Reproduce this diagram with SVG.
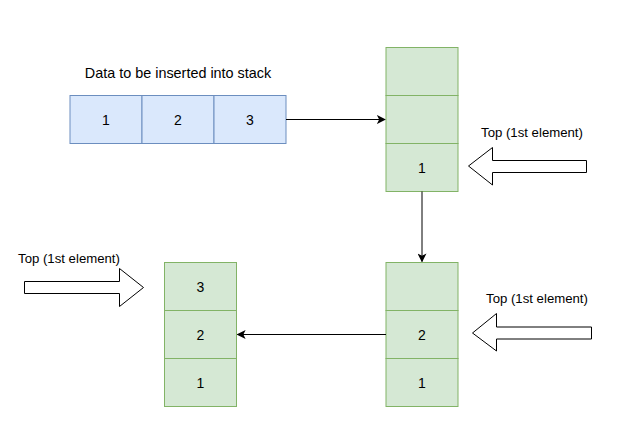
<svg xmlns="http://www.w3.org/2000/svg" width="617" height="432" viewBox="0 0 617 432">
<defs>
<marker id="ah" viewBox="0 0 10 10" refX="9" refY="5" markerWidth="9" markerHeight="9" markerUnits="userSpaceOnUse" orient="auto">
<path d="M0,0 L10,5 L0,10 L2.5,5 Z" fill="#000"/>
</marker>
<style>
text{font-family:"Liberation Sans",Arial,sans-serif;font-size:14px;fill:#000;text-anchor:middle;dominant-baseline:central}
.t{font-size:13.2px}
.d{font-size:14.4px}
.b{fill:#dae8fc;stroke:#6c8ebf;stroke-width:1}
.g{fill:#d5e8d4;stroke:#82b366;stroke-width:1}
.ba{fill:#fff;stroke:#000;stroke-width:1}
.c{fill:none;stroke:#000;stroke-width:1;marker-end:url(#ah)}
</style>
</defs>
<rect width="617" height="432" fill="#fff"/>
<g id="label-data"><text class="d" x="178" y="73">Data to be inserted into stack</text></g>
<g id="data-row">
<rect class="b" x="70" y="95.5" width="72" height="48"/><text x="106" y="119.5">1</text>
<rect class="b" x="142" y="95.5" width="72" height="48"/><text x="178" y="119.5">2</text>
<rect class="b" x="214" y="95.5" width="72" height="48"/><text x="250" y="119.5">3</text>
</g>
<g id="stack-1">
<rect class="g" x="386" y="47.5" width="72" height="48"/>
<rect class="g" x="386" y="95.5" width="72" height="48"/>
<rect class="g" x="386" y="143.5" width="72" height="48"/><text x="422" y="167.5">1</text>
</g>
<g id="stack-2">
<rect class="g" x="386" y="262.5" width="72" height="48"/>
<rect class="g" x="386" y="310.5" width="72" height="48"/><text x="422" y="334.5">2</text>
<rect class="g" x="386" y="358.5" width="72" height="48"/><text x="422" y="382.5">1</text>
</g>
<g id="stack-3">
<rect class="g" x="164.5" y="262.5" width="72" height="48"/><text x="200.5" y="286.5">3</text>
<rect class="g" x="164.5" y="310.5" width="72" height="48"/><text x="200.5" y="334.5">2</text>
<rect class="g" x="164.5" y="358.5" width="72" height="48"/><text x="200.5" y="382.5">1</text>
</g>
<g id="top-1">
<text class="t" x="532" y="132">Top (1st element)</text>
<path class="ba" d="M468.5,166 L492.5,147.5 L492.5,160.5 L586.5,160.5 L586.5,172.5 L492.5,172.5 L492.5,185 Z"/>
</g>
<g id="top-2">
<text class="t" x="537" y="298">Top (1st element)</text>
<path class="ba" d="M472.5,333 L496.5,313.5 L496.5,327 L591.5,327 L591.5,339 L496.5,339 L496.5,351 Z"/>
</g>
<g id="top-3">
<text class="t" x="69" y="258">Top (1st element)</text>
<path class="ba" d="M143.5,287.5 L119.5,268.5 L119.5,281.5 L24.5,281.5 L24.5,293.5 L119.5,293.5 L119.5,306.5 Z"/>
</g>
<g id="connectors">
<path class="c" d="M286,119.5 L385,119.5"/>
<path class="c" d="M422,191.5 L422,261.5"/>
<path class="c" d="M386,334.5 L237.5,334.5"/>
</g>
</svg>
